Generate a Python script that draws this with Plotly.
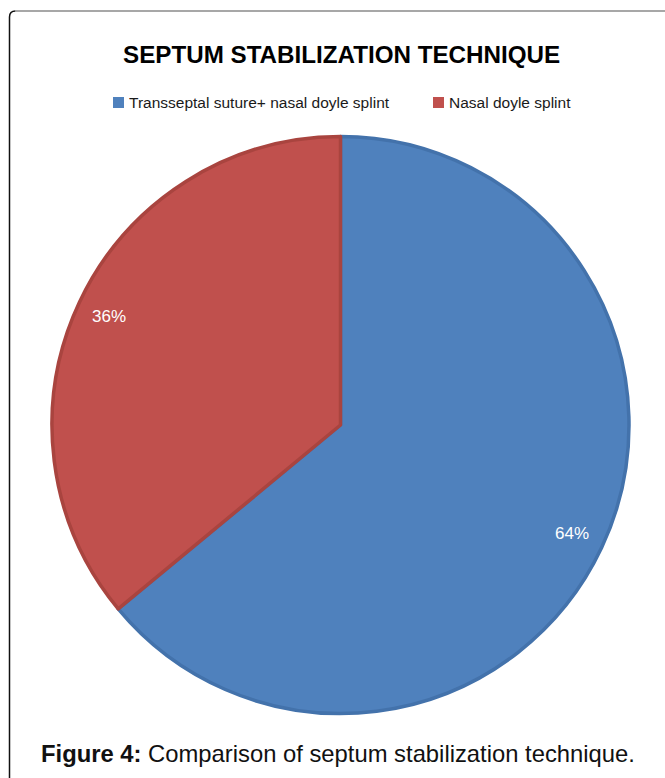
import math
import plotly.graph_objects as go

# Septum stabilization technique: share of patients per technique
categories = ["Transseptal suture+ nasal doyle splint", "Nasal doyle splint"]
percentages = [64, 36]
slice_colors = ["#4F81BD", "#C0504D"]
edge_colors = ["#4372AB", "#A9443F"]

W, H = 665, 778
FONT = "Liberation Sans, Arial, sans-serif"


def px(x):
    return x / W


def py(y):
    return 1 - y / H


# pie geometry (pixels)
cx, cy, r = 340.5, 425.0, 288.5

fig = go.Figure()
fig.add_trace(go.Pie(
    labels=categories,
    values=percentages,
    sort=False,
    direction="clockwise",
    rotation=0,
    marker=dict(colors=slice_colors, line=dict(color=edge_colors, width=3.5)),
    textinfo="none",
    hoverinfo="label+percent",
    showlegend=False,
    domain=dict(x=[px(cx - r), px(cx + r)], y=[py(cy + r), py(cy - r)]),
))

annotations = []

# percentage labels placed along each slice's mid angle
total = sum(percentages)
cum = 0.0
for v in percentages:
    mid = (cum + v / 2) / total * 2 * math.pi
    cum += v
    lx = cx + 0.885 * r * math.sin(mid)
    ly = cy - 0.885 * r * math.cos(mid)
    annotations.append(dict(
        x=px(lx), y=py(ly), xref="paper", yref="paper",
        text=f"{round(v / total * 100)}%", showarrow=False,
        xanchor="center", yanchor="middle",
        font=dict(family=FONT, size=17, color="white"),
    ))

# title
annotations.append(dict(
    x=px(342), y=py(55), xref="paper", yref="paper",
    text="<b>SEPTUM STABILIZATION TECHNIQUE</b>", showarrow=False,
    xanchor="center", yanchor="middle",
    font=dict(family=FONT, size=24.2, color="#000000"),
))

# caption
annotations.append(dict(
    x=px(338), y=py(753), xref="paper", yref="paper",
    text="<b>Figure 4:</b> Comparison of septum stabilization technique.",
    showarrow=False, xanchor="center", yanchor="middle",
    font=dict(family=FONT, size=23.8, color="#111111"),
))

shapes = []

# legend: colour swatches with labels
legend_x = [113, 433]
for i, (name, col) in enumerate(zip(categories, slice_colors)):
    x0 = legend_x[i]
    shapes.append(dict(
        type="rect", xref="paper", yref="paper",
        x0=px(x0), x1=px(x0 + 11), y0=py(108), y1=py(97),
        fillcolor=col, line=dict(width=0),
    ))
    annotations.append(dict(
        x=px(x0 + 14), y=py(102.5), xref="paper", yref="paper",
        text=name, showarrow=False, xanchor="left", yanchor="middle",
        font=dict(family=FONT, size=15.5, color="#1a1a1a"),
    ))

# frame: left edge with rounded top-left corner, grey top edge
shapes.append(dict(
    type="path", xref="paper", yref="paper",
    path=f"M {px(9.5)},{py(780)} L {px(9.5)},{py(17)} Q {px(9.5)},{py(11)} {px(15.5)},{py(11)}",
    line=dict(color="#111111", width=1.5),
))
shapes.append(dict(
    type="line", xref="paper", yref="paper",
    x0=px(15.5), x1=px(670), y0=py(11), y1=py(11),
    line=dict(color="#8a8a8a", width=1.5),
))

fig.update_layout(
    width=W, height=H,
    margin=dict(l=0, r=0, t=0, b=0),
    paper_bgcolor="white",
    plot_bgcolor="white",
    annotations=annotations,
    shapes=shapes,
)

fig.write_html("out.html")
